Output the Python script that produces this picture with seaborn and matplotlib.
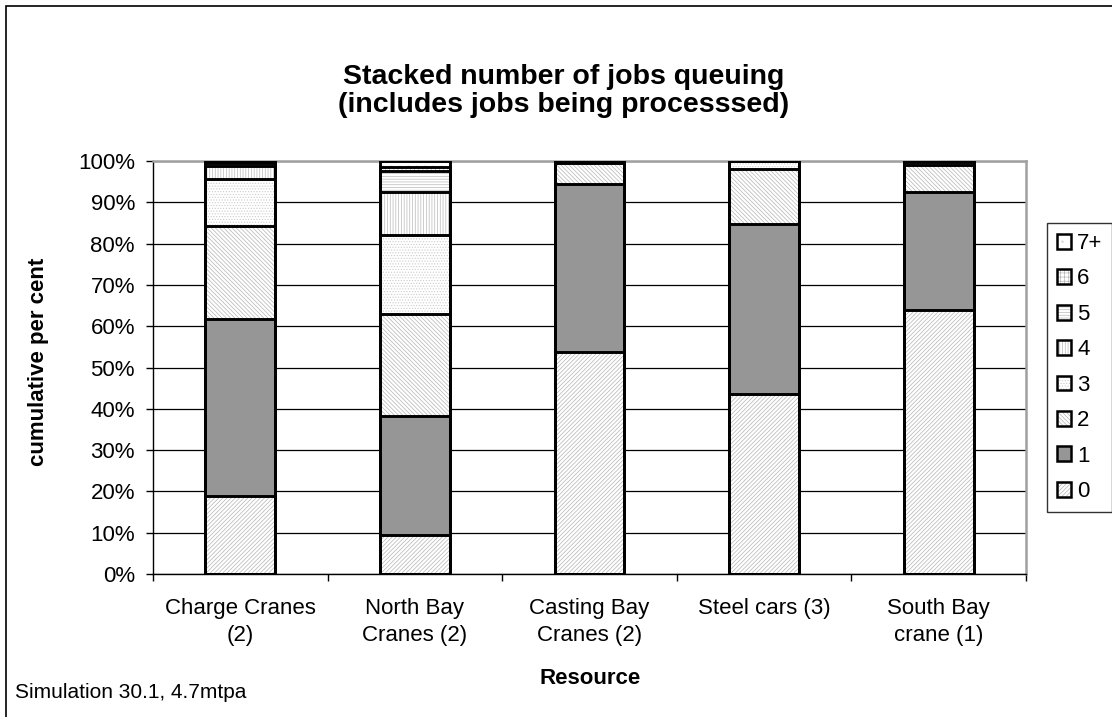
import matplotlib
matplotlib.use("Agg")
import numpy as np
import pandas as pd
import seaborn as sns
import matplotlib.pyplot as plt
from matplotlib.patches import Patch, Rectangle
from matplotlib.ticker import PercentFormatter, MultipleLocator, FixedLocator
from matplotlib.legend_handler import HandlerTuple

# ---------------- data ----------------
categories = ["Charge Cranes\n(2)", "North Bay\nCranes (2)", "Casting Bay\nCranes (2)",
              "Steel cars (3)", "South Bay\ncrane (1)"]
levels = ["0", "1", "2", "3", "4", "5", "6", "7+"]
q0 = [19.0, 9.5, 53.8, 43.6, 63.9]
q1 = [42.8, 28.8, 40.6, 41.1, 28.6]
q2 = [22.5, 24.6, 5.0, 13.3, 6.5]
q3 = [11.3, 19.2, 0.4, 2.0, 0.8]
q4 = [3.3, 10.5, 0.1, 0.0, 0.2]
q5 = [0.6, 5.0, 0.1, 0.0, 0.0]
q6 = [0.3, 1.0, 0.0, 0.0, 0.0]
q7 = [0.2, 1.4, 0.0, 0.0, 0.0]
series = [q0, q1, q2, q3, q4, q5, q6, q7]

title = "Stacked number of jobs queuing\n(includes jobs being processsed)"
xlabel = "Resource"
ylabel = "cumulative per cent"
footnote = "Simulation 30.1, 4.7mtpa"

# ---------------- styles ----------------
sns.set_theme(style="white")
plt.rcParams["font.family"] = ["Liberation Sans", "DejaVu Sans"]
plt.rcParams["hatch.linewidth"] = 0.5
plt.rcParams["hatch.color"] = "#b0b0b0"
for k in ["text.color", "axes.labelcolor", "xtick.color", "ytick.color"]:
    plt.rcParams[k] = "black"

styles = [
    dict(fc="white", hatch="////////", hc="#b4b4b4"),   # 0
    dict(fc="#969696", hatch=None, hc="#969696"),       # 1
    dict(fc="white", hatch="\\\\\\\\\\\\\\\\", hc="#b4b4b4"),  # 2
    dict(fc="white", hatch="......", hc="#cccccc"),     # 3
    dict(fc="white", hatch="||||||", hc="#b8b8b8"),     # 4
    dict(fc="white", hatch="------", hc="#b8b8b8"),     # 5
    dict(fc="white", hatch="++++", hc="#b8b8b8"),       # 6
    dict(fc="white", hatch="..", hc="#d8d8d8"),         # 7+
]

W, H = 1112, 717
fig = plt.figure(figsize=(W / 100, H / 100), dpi=100)
ax = fig.add_axes([153 / W, 1 - 574 / H, (1026 - 153) / W, (574 - 161) / H])

df = pd.DataFrame({"resource": categories})
cum = np.cumsum(np.array(series), axis=0)

# fills: draw from the top cumulative layer down so lower layers overlay
for i in range(len(levels) - 1, -1, -1):
    st = styles[i]
    df["v"] = cum[i]
    kw = dict(color=st["fc"], edgecolor=st["hc"], linewidth=0)
    if st["hatch"]:
        kw["hatch"] = st["hatch"]
    sns.barplot(data=df, x="resource", y="v", ax=ax, width=0.4, saturation=1,
                errorbar=None, zorder=2, **kw)

# outlines
for i in range(len(levels) - 1, -1, -1):
    df["v"] = cum[i]
    sns.barplot(data=df, x="resource", y="v", ax=ax, width=0.4, saturation=1,
                errorbar=None, fill=False, color="black", linewidth=2.1, zorder=3)

# ---------------- axes ----------------
ax.set_xlim(-0.5, len(categories) - 0.5)
ax.set_ylim(0, 100)
ax.yaxis.set_major_locator(MultipleLocator(10))
ax.yaxis.set_major_formatter(PercentFormatter(decimals=0))
ax.set_axisbelow(True)
ax.yaxis.grid(True, color="black", linewidth=0.9)
ax.xaxis.grid(False)

ax.xaxis.set_minor_locator(FixedLocator(np.arange(-0.5, len(categories), 1.0)))
ax.tick_params(axis="x", which="major", length=0, pad=17, labelsize=16, colors="black")
ax.tick_params(axis="x", which="minor", length=5, width=1, direction="out", color="black", bottom=True)
ax.tick_params(axis="y", which="major", length=5, width=1, direction="out", left=True,
               pad=8, labelsize=16, colors="black")
for lab in ax.get_xticklabels():
    lab.set_linespacing(1.4)

for s in ["left", "bottom"]:
    ax.spines[s].set_color("black")
    ax.spines[s].set_linewidth(1.0)
for s in ["top", "right"]:
    ax.spines[s].set_color("#a0a0a0")
    ax.spines[s].set_linewidth(1.8)

ax.set_xlabel("")
ax.set_ylabel("")
fig.text(590 / W, 1 - 678 / H, xlabel, ha="center", va="center", fontsize=16, fontweight="bold")
fig.text(39 / W, 1 - 362 / H, ylabel, ha="center", va="center", rotation=90,
         fontsize=16, fontweight="bold")
fig.text(564 / W, 1 - 91 / H, title, ha="center", va="center", fontsize=20.5,
         fontweight="bold", linespacing=1.15)
fig.text(15 / W, 1 - 692 / H, footnote, ha="left", va="center", fontsize=15)

# ---------------- legend ----------------
handles, labels = [], []
for i in range(len(levels) - 1, -1, -1):
    st = styles[i]
    p1 = Patch(facecolor=st["fc"], edgecolor=st["hc"], linewidth=0,
               hatch=st["hatch"] if st["hatch"] else None)
    p2 = Patch(facecolor="none", edgecolor="black", linewidth=1.8)
    handles.append((p1, p2))
    labels.append(levels[i])
leg = fig.legend(handles, labels, handler_map={tuple: HandlerTuple(ndivide=1, pad=0)},
                 loc="upper left", bbox_to_anchor=(1047 / W, 1 - 223 / H),
                 fontsize=16, frameon=True, fancybox=False, shadow=False,
                 handlelength=0.65, handleheight=0.65, handletextpad=0.25,
                 labelspacing=0.65, borderpad=0.45, borderaxespad=0)
leg.get_frame().set_edgecolor("black")
leg.get_frame().set_linewidth(1.0)

# outer chart border (left and top visible)
fig.add_artist(Rectangle((6 / W, -0.05), 1.2, 1 - 6 / H + 0.05, transform=fig.transFigure,
                         fill=False, edgecolor="black", linewidth=1.2))

fig.savefig("out.png", dpi=100)
